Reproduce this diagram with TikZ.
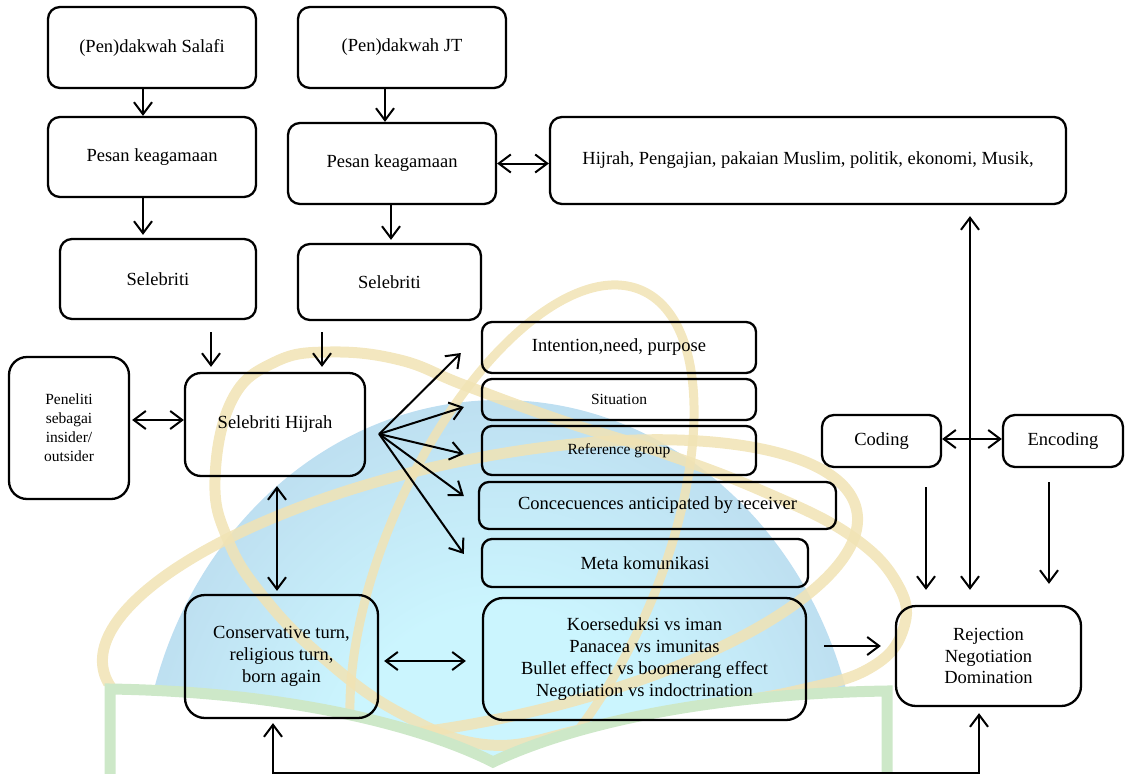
\documentclass[tikz,border=0pt]{standalone}
\usepackage{fontspec}
\setmainfont{Liberation Serif}
\usetikzlibrary{arrows.meta,calc}

\definecolor{domeIn}{HTML}{CBF5FE}
\definecolor{domeOut}{HTML}{A9BEDC}
\definecolor{ringGold}{HTML}{F1E3B4}
\definecolor{frameGreen}{HTML}{CDE8C8}

\pgfdeclareradialshading{domeshade}{\pgfpoint{0bp}{0bp}}{%
  color(0bp)=(domeIn); color(12bp)=(domeIn); color(45bp)=(domeOut); color(50bp)=(domeOut)}

\tikzset{
  box/.style={draw, line width=2.3pt, rounded corners=12pt, inner sep=0pt,
    align=center, font=\fontsize{18.5}{21.8}\selectfont},
  smallbox/.style={box, font=\fontsize{15.5}{19}\selectfont},
  arr/.style={line width=2pt, -{Straight Barb[length=12pt,width=18pt]}},
  darr/.style={line width=2pt,
    {Straight Barb[length=12pt,width=18pt]}-{Straight Barb[length=12pt,width=18pt]}},
  ringband/.style={draw=ringGold, line width=11pt, draw opacity=0.85},
}

\begin{document}
\begin{tikzpicture}[x=1pt, y=-1pt]
\useasboundingbox (0,0) rectangle (1128,774);

% --- background emblem: dome, orbits and gate ---
\begin{scope}
  \clip (0,0) -- (1128,0) -- (1128,688) -- (893,688)
    .. controls (690,692) and (560,728) .. (493,760)
    .. controls (430,728) and (300,688) .. (104,686) -- (0,686) -- cycle;
  \shade[shading=domeshade] (500,800) ellipse [x radius=360, y radius=400];
  % wide orbit
  \draw[ringband] plot[smooth cycle, tension=0.7] coordinates {
    (215,480) (232,400) (275,362) (330,352) (400,360) (464,385) (560,420)
    (660,452) (760,490) (850,535) (898,585) (903,630) (870,668) (800,690)
    (700,708) (590,728) (490,745) (400,713) (320,655) (262,595) (228,540)};
  % flat orbit
  \draw[ringband, rotate around={12:(480,590)}] (480,590) ellipse [x radius=385, y radius=130];
  % tall orbit
  \draw[ringband, line width=9pt, rotate around={66:(522,560)}] (522,560) ellipse [x radius=295, y radius=135];
\end{scope}
\draw[frameGreen, line width=11pt] (110,790) -- (110,689)
  .. controls (300,692) and (430,730) .. (493,762)
  .. controls (560,730) and (690,694) .. (887,691) -- (887,790);

% --- boxes ---
\node[box, minimum width=208pt, minimum height=81pt] (sal) at (152,47.5) {(Pen)dakwah Salafi};
\node[box, minimum width=208pt, minimum height=81pt] (jt) at (402,47.5) {(Pen)dakwah JT};
\node[box, minimum width=208pt, minimum height=80pt] (pes1) at (152,157) {Pesan keagamaan};
\node[box, minimum width=208pt, minimum height=81pt] (pes2) at (392,163.5) {Pesan keagamaan};
\node[box, minimum width=516pt, minimum height=87pt] (tema) at (808,160.5)
  {Hijrah, Pengajian, pakaian Muslim, politik, ekonomi, Musik,};
\node[box, minimum width=196pt, minimum height=80pt] (sel1) at (158,279) {Selebriti};
\node[box, minimum width=183pt, minimum height=76pt] (sel2) at (389.5,282) {Selebriti};
\node[smallbox, rounded corners=18pt, minimum width=120pt, minimum height=142pt] (pen) at (69,428)
  {Peneliti\\sebagai\\insider/\\outsider};
\node[box, rounded corners=16pt, minimum width=180pt, minimum height=103pt] (sh) at (275,424.5) {Selebriti Hijrah};
\node[box, rounded corners=10pt, minimum width=274pt, minimum height=51pt] (int) at (619,347.5) {Intention,need, purpose};
\node[smallbox, rounded corners=10pt, minimum width=274pt, minimum height=41pt] (sit) at (619,399.5) {Situation};
\node[smallbox, rounded corners=10pt, minimum width=274pt, minimum height=49pt] (ref) at (619,450.5) {Reference group};
\node[box, rounded corners=10pt, minimum width=357pt, minimum height=47pt] (conq) at (657.5,505.5)
  {Concecuences anticipated by receiver};
\node[box, rounded corners=10pt, minimum width=326pt, minimum height=48pt] (meta) at (645,563) {Meta komunikasi};
\node[box, minimum width=119pt, minimum height=52pt] (cod) at (881.5,441) {Coding};
\node[box, minimum width=120pt, minimum height=52pt] (enc) at (1063,441) {Encoding};
\node[box, rounded corners=20pt, minimum width=193pt, minimum height=123pt] (cons) at (281.5,656.5)
  {Conservative turn,\\religious turn,\\born again};
\node[box, rounded corners=20pt, minimum width=323pt, minimum height=122pt] (koer) at (644.5,659)
  {Koerseduksi vs iman\\Panacea vs imunitas\\Bullet effect vs boomerang effect\\Negotiation vs indoctrination};
\node[box, rounded corners=20pt, minimum width=185pt, minimum height=100pt] (rej) at (988.5,656)
  {Rejection\\Negotiation\\Domination};

% --- connectors ---
\draw[arr] ([xshift=-9pt]sal.south) -- ([xshift=-9pt]pes1.north);
\draw[arr] ([xshift=-17pt]jt.south) -- ([xshift=-7pt]pes2.north);
\draw[arr, shorten >=3pt] ([xshift=-9pt]pes1.south) -- ([xshift=-15pt]sel1.north);
\draw[arr, shorten >=3pt] ([xshift=-1pt]pes2.south) -- ([xshift=1.5pt]sel2.north);
\draw[darr] (pes2.east) -- (pes2.east -| tema.west);
\draw[arr, shorten <=12pt, shorten >=5pt] ([xshift=53pt]sel1.south) -- ([xshift=-64pt]sh.north);
\draw[arr, shorten <=11pt, shorten >=5pt] ([xshift=-67.5pt]sel2.south) -- ([xshift=47pt]sh.north);
\draw[darr, shorten <=2pt] ([yshift=8pt]pen.east) -- ([yshift=4.5pt]sh.west);

\coordinate (fan) at ($(sh.east)+(13,9.5)$);
\draw[arr] (fan) -- ([xshift=-20pt,yshift=-5.5pt]int.west);
\draw[arr] (fan) -- ([xshift=-17pt,yshift=-7.5pt]sit.west);
\draw[arr] (fan) -- ([xshift=-17pt,yshift=-3.5pt]ref.west);
\draw[arr] (fan) -- ([xshift=-14pt,yshift=9.5pt]conq.west);
\draw[arr] (fan) -- ([xshift=-17pt,yshift=9pt]meta.west);

\draw[darr, shorten <=9pt, shorten >=3pt] ([xshift=2pt]sh.south) -- ([xshift=-4.5pt]cons.north);
\draw[darr, shorten <=5pt, shorten >=16pt] ([yshift=-4.5pt]cons.east) -- ([yshift=-2pt]koer.west);
\draw[arr, shorten <=17pt, shorten >=14pt] ([yshift=13pt]koer.east) -- ([yshift=10pt]rej.west);
\draw[darr] ([yshift=2pt]cod.east) -- ([yshift=2pt]enc.west);
\draw[darr, shorten <=11pt, shorten >=15pt] ([xshift=162pt]tema.south) -- ([xshift=-18.5pt]rej.north);
\draw[arr, shorten <=19pt, shorten >=15pt] ([xshift=44.5pt]cod.south) -- ([xshift=-62.5pt]rej.north);
\draw[arr, shorten <=14pt, shorten >=21pt] ([xshift=-14pt]enc.south) -- ([xshift=60.5pt]rej.north);
\draw[darr, shorten <=6pt, shorten >=4pt] ([xshift=-9.5pt]rej.south) -- ++(0,66) -| ([xshift=-8.5pt]cons.south);
\end{tikzpicture}
\end{document}
